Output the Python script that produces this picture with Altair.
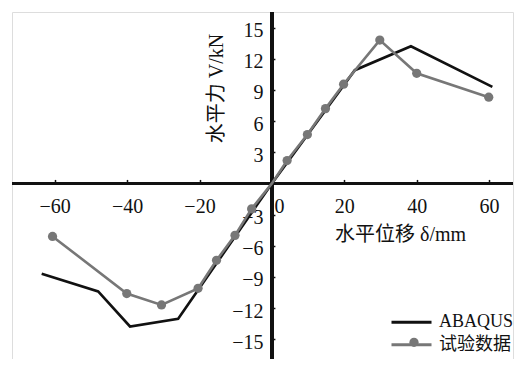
import altair as alt
import pandas as pd

# ---- data ----
abaqus_x = [-63.6, -48.0, -39.2, -25.9, 0.0, 22.9, 38.4, 60.9]
abaqus_y = [-8.7, -10.4, -13.77, -13.03, 0.0, 10.9, 13.2, 9.3]
test_x = [-60.6, -40.1, -30.5, -20.4, -15.3, -10.2, -5.6, 0.0, 4.2, 9.8, 14.8, 19.8, 29.8, 40.0, 59.9]
test_y = [-5.1, -10.6, -11.7, -10.1, -7.4, -5.0, -2.45, 0.0, 2.2, 4.7, 7.2, 9.55, 13.8, 10.6, 8.3]
series_names = ["ABAQUS", "试验数据"]
series_colors = ["#111111", "#777777"]
x_ticks = [-60, -40, -20, 0, 20, 40, 60]
y_ticks = [-15, -12, -9, -6, -3, 3, 6, 9, 12, 15]
x_domain = [-71.8, 66.6]
y_domain = [-16.9, 16.5]
x_title = "水平位移 δ/mm"
y_title = "水平力 V/kN"

W, H = 501, 347
zero_x = (0 - x_domain[0]) / (x_domain[1] - x_domain[0]) * W
zero_y = (y_domain[1] - 0) / (y_domain[1] - y_domain[0]) * H

FONT = "Liberation Serif, Noto Sans CJK SC"
GRAY = series_colors[1]

rows = []
for i, (a, b) in enumerate(zip(abaqus_x, abaqus_y)):
    rows.append({"x": a, "y": b, "s": series_names[0], "s2": series_names[0], "o": i, "pt": False})
for i, (a, b) in enumerate(zip(test_x, test_y)):
    rows.append({"x": a, "y": b, "s": series_names[1], "s2": series_names[1], "o": i,
                 "pt": not (a == 0 and b == 0)})
df = pd.DataFrame(rows)

xs = alt.Scale(domain=x_domain, nice=False, zero=False)
ys = alt.Scale(domain=y_domain, nice=False, zero=False)

# label axes (no ticks)
x_axis = alt.Axis(
    values=x_ticks, orient="bottom", offset=-(H - zero_y), domain=False, grid=False,
    ticks=False, labelFont=FONT, labelFontSize=20,
    labelColor="#111", labelPadding=13, labelFlush=False,
    labelAlign={"condition": {"test": "datum.value === 0", "value": "left"}, "value": "center"},
    labelOffset={"condition": {"test": "datum.value === 0", "value": 2}, "value": 0},
    title=x_title, titleFont=FONT, titleFontSize=20, titleFontWeight="normal",
    titleColor="#111", titleX=388, titleY=51, titleAlign="center", titleBaseline="middle",
    titleAngle=0,
)
y_axis = alt.Axis(
    values=y_ticks, orient="left", offset=-zero_x, domain=False, grid=False,
    ticks=False, labelFont=FONT, labelFontSize=20,
    labelColor="#111", labelPadding=9, labelOffset=3, labelFlush=False,
    title=y_title, titleFont=FONT, titleFontSize=20, titleFontWeight="normal",
    titleColor="#111", titleX=-55, titleY=76, titleAlign="center", titleBaseline="middle",
    titleAngle=270,
)
# tick axes (ticks pointing up / right)
x_tick_axis = alt.Axis(
    values=x_ticks, orient="top", offset=-zero_y, domain=False, grid=False,
    ticks=True, tickSize=4, tickWidth=1.5, tickColor="#111", labels=False, title=None,
)
y_tick_axis = alt.Axis(
    values=y_ticks, orient="right", offset=-(W - zero_x), domain=False, grid=False,
    ticks=True, tickSize=3, tickWidth=1.5, tickColor="#111", labels=False, title=None,
)

LX, LY = 378, 288.7
ROW = 22.6


def line_legend(y):
    return alt.Legend(
        orient="none", legendX=LX, legendY=y, title=None, padding=0,
        symbolType="stroke", symbolSize=1600, symbolStrokeWidth=3,
        labelFont=FONT, labelFontSize=18, labelColor="#111", labelOffset=6,
    )


dot_legend = alt.Legend(
    orient="none", legendX=LX + 15, legendY=321.3, title=None, padding=0,
    symbolType="circle", symbolSize=85, symbolFillColor=GRAY, symbolStrokeWidth=0,
    symbolOpacity=1, labelExpr="''", labelFontSize=18,
)

base = alt.Chart(df)

vrule = base.mark_rule(color="#111", strokeWidth=3).encode(
    x=alt.X(datum=0, scale=xs, axis=x_axis))
hrule = base.mark_rule(color="#111", strokeWidth=3).encode(
    y=alt.Y(datum=0, scale=ys, axis=y_axis))

line_a = base.transform_filter(alt.datum.s == series_names[0]).mark_line(strokeWidth=2.6).encode(
    x=alt.X("x:Q", scale=xs, axis=x_tick_axis),
    y=alt.Y("y:Q", scale=ys, axis=y_tick_axis),
    color=alt.Color("s:N", scale=alt.Scale(domain=[series_names[0]], range=[series_colors[0]]),
                    legend=line_legend(LY)),
    order="o:Q",
)
line_b = base.transform_filter(alt.datum.s == series_names[1]).mark_line(strokeWidth=2.6).encode(
    x=alt.X("x:Q", scale=xs, axis=None),
    y=alt.Y("y:Q", scale=ys, axis=None),
    color=alt.Color("s:N", scale=alt.Scale(domain=[series_names[1]], range=[series_colors[1]]),
                    legend=line_legend(LY + ROW)),
    order="o:Q",
)
pts = base.transform_filter("datum.pt").mark_point(size=85, filled=True, opacity=1, color=GRAY).encode(
    x=alt.X("x:Q", scale=xs, axis=None),
    y=alt.Y("y:Q", scale=ys, axis=None),
    shape=alt.Shape("s2:N", scale=alt.Scale(domain=[series_names[1]], range=["circle"]),
                    legend=dot_legend),
)

chart = alt.layer(vrule, hrule, line_a, line_b, pts).resolve_axis(
    x="independent", y="independent"
).resolve_scale(color="independent").properties(
    width=W, height=H,
    padding={"left": 4, "top": 4, "right": 2, "bottom": 0},
    autosize="none",
).configure_view(stroke=None).configure(background="white")

chart.save("out.html", embed_options={"renderer": "svg", "actions": False})
